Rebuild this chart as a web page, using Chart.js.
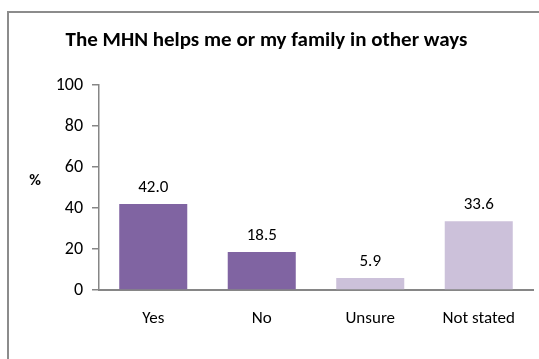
<!DOCTYPE html>
<html>
<head>
<meta charset="utf-8">
<script src="https://cdn.jsdelivr.net/npm/chart.js@4.4.1/dist/chart.umd.min.js"></script>
<style>
  html, body { margin: 0; padding: 0; background: #fff; }
  #wrap { position: relative; width: 539px; height: 359px; overflow: hidden; }
  #frame {
    position: absolute; left: 7px; top: 11px; width: 600px; height: 400px;
    border-left: 2px solid #8c8c8c; border-top: 2px solid #8c8c8c;
  }
  #chart { position: absolute; left: 0; top: 0; }
</style>
</head>
<body>
<div id="wrap">
  <div id="frame"></div>
  <canvas id="chart" width="539" height="359"></canvas>
</div>
<script>
// ---- Data ----
const categories = ["Yes", "No", "Unsure", "Not stated"];
const percents = [42.0, 18.5, 5.9, 33.6];
const barColors = ["#8064A2", "#8064A2", "#CCC1DA", "#CCC1DA"];
const yTicks = [0, 20, 40, 60, 80, 100];

const FONT = "Carlito, Lato, 'Open Sans', sans-serif";
const AXIS_GREY = "#868686";

// value labels above each bar
const valueLabels = {
  id: "valueLabels",
  afterDatasetsDraw(chart) {
    const { ctx } = chart;
    const meta = chart.getDatasetMeta(0);
    ctx.save();
    ctx.font = `17px ${FONT}`;
    ctx.fillStyle = "#000";
    ctx.textAlign = "center";
    ctx.textBaseline = "middle";
    meta.data.forEach((bar, i) => {
      ctx.fillText(percents[i].toFixed(1), bar.x, bar.y - 16);
    });
    ctx.restore();
  },
};

// horizontal "%" axis label
const percentLabel = {
  id: "percentLabel",
  afterDraw(chart) {
    const { ctx } = chart;
    const y = chart.scales.y.getPixelForValue(53);
    ctx.save();
    ctx.font = `bold 16px ${FONT}`;
    ctx.fillStyle = "#000";
    ctx.textAlign = "center";
    ctx.textBaseline = "middle";
    ctx.fillText("%", 35, y);
    ctx.restore();
  },
};

new Chart(document.getElementById("chart"), {
  type: "bar",
  data: {
    labels: categories,
    datasets: [{
      data: percents,
      backgroundColor: barColors,
      borderWidth: 0,
      barPercentage: 0.627,
      categoryPercentage: 1,
    }],
  },
  options: {
    responsive: false,
    animation: false,
    layout: { padding: { left: 0, right: 6, top: 0, bottom: 0 } },
    plugins: {
      legend: { display: false },
      tooltip: { enabled: false },
      title: {
        display: true,
        text: "The MHN helps me or my family in other ways",
        color: "#000",
        font: { family: FONT, size: 21, weight: "bold", lineHeight: 1.2 },
        padding: { top: 28, bottom: 32 },
      },
    },
    scales: {
      x: {
        afterFit: (s) => { s.height = 69; },
        grid: { display: false, drawTicks: false },
        border: { display: true, color: AXIS_GREY, width: 2 },
        ticks: { color: "#000", font: { family: FONT, size: 17 }, padding: 19 },
      },
      y: {
        min: 0,
        max: 100,
        afterFit: (s) => { s.width = 99; },
        afterBuildTicks: (s) => { s.ticks = yTicks.map((v) => ({ value: v })); },
        grid: { drawOnChartArea: false, drawTicks: true, tickLength: 7, color: AXIS_GREY, lineWidth: 1.5 },
        border: { display: true, color: AXIS_GREY, width: 1.5 },
        ticks: { color: "#000", font: { family: FONT, size: 18 }, padding: 9 },
      },
    },
  },
  plugins: [valueLabels, percentLabel],
});
</script>
</body>
</html>
